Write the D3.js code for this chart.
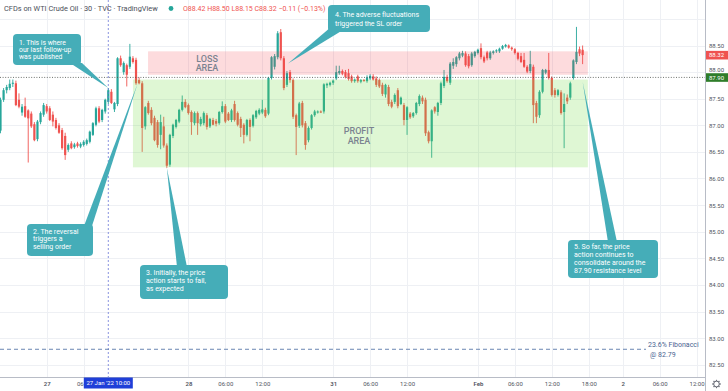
<!DOCTYPE html>
<html><head><meta charset="utf-8">
<script src="https://cdn.jsdelivr.net/npm/d3@7"></script>
<style>
html,body{margin:0;padding:0;background:#fff;overflow:hidden;}
svg{display:block;font-family:Roboto,"Open Sans",sans-serif;}
</style></head><body>
<svg id="chart" width="728" height="391"></svg>
<script>
// ---------- DATA (30-min bars, WTI CFD) ----------
const opens = [86.90,87.48,87.66,87.70,87.78,87.79,87.48,87.24,87.36,87.28,
87.22,87.02,86.74,87.06,87.20,87.36,87.32,87.20,87.10,87.00,
86.91,86.80,86.54,86.66,86.59,86.66,86.60,86.63,86.65,86.69,
86.82,87.01,87.32,87.10,87.26,87.44,87.63,87.30,87.40,88.26,
88.00,88.13,88.10,88.26,88.23,87.85,87.79,86.98,87.42,87.29,
87.14,87.06,86.82,86.98,86.62,86.26,86.80,86.97,87.07,87.29,
87.44,87.38,87.25,87.04,87.23,87.02,87.04,87.19,86.98,87.10,
87.08,87.04,87.25,87.36,87.22,87.10,87.40,87.23,87.12,87.01,
86.82,87.10,86.99,87.15,87.22,87.24,87.29,87.22,87.89,88.10,
88.28,88.75,88.26,87.76,88.00,87.85,87.19,86.99,87.42,87.04,
86.72,86.95,87.19,87.24,87.26,87.26,87.75,87.76,87.80,87.88,
87.98,88.02,88.00,87.98,87.92,87.83,87.92,87.82,87.85,87.83,
87.88,87.92,87.88,87.85,87.76,87.58,87.72,87.44,87.44,87.66,
87.40,87.38,87.10,87.22,87.17,87.23,87.40,87.52,87.48,86.87,
86.70,87.34,87.25,87.42,87.74,87.91,87.80,88.12,88.15,88.26,
88.31,88.35,88.30,88.13,88.30,88.36,88.45,88.28,88.37,88.26,
88.36,88.39,88.39,88.44,88.48,88.50,88.46,88.43,88.36,88.30,
88.23,88.10,88.02,88.10,87.42,87.19,87.63,87.99,88.04,87.89,
87.66,87.57,87.62,87.25,87.52,87.52,87.89,88.19,88.43,88.42];
const highs = [87.52,87.70,87.76,87.86,87.86,87.84,87.60,87.40,87.52,87.30,
87.26,87.06,87.10,87.26,87.42,87.40,87.36,87.26,87.14,87.04,
86.95,86.86,86.66,86.70,86.67,86.69,86.68,86.72,86.75,86.90,
87.06,87.35,87.36,87.31,87.50,87.70,87.68,87.44,88.28,88.31,
88.20,88.16,88.53,88.30,88.27,87.90,87.83,87.36,87.46,87.34,
87.18,87.10,87.20,87.16,86.66,86.84,87.03,87.12,87.31,87.56,
87.49,87.41,87.28,87.26,87.26,87.16,87.26,87.23,87.14,87.14,
87.12,87.27,87.45,87.40,87.25,87.31,87.46,87.26,87.16,87.04,
87.12,87.13,87.21,87.29,87.32,87.48,87.33,87.91,88.30,88.34,
88.77,88.81,88.30,88.02,88.04,87.88,87.22,87.44,87.46,87.08,
86.98,87.21,87.29,87.28,87.28,87.79,87.80,87.82,87.86,88.12,
88.12,88.05,88.04,88.06,87.95,87.88,87.95,87.87,87.87,87.94,
87.96,87.96,87.92,87.88,87.80,87.78,87.76,87.48,87.60,87.70,
87.54,87.42,87.36,87.25,87.25,87.44,87.58,87.56,87.52,86.90,
87.30,87.36,87.44,87.82,88.04,87.95,88.19,88.26,88.30,88.38,
88.40,88.39,88.34,88.38,88.40,88.44,88.54,88.31,88.40,88.40,
88.41,88.43,88.46,88.51,88.53,88.52,88.48,88.45,88.38,88.36,
88.36,88.13,88.40,88.14,87.46,87.66,88.06,88.06,88.36,87.92,
87.70,87.68,87.66,87.60,87.58,87.82,88.24,88.85,88.48,88.50];
const lows = [86.85,87.44,87.60,87.66,87.72,87.36,87.32,87.18,87.14,86.30,
86.95,86.70,86.70,87.02,87.16,87.22,87.08,86.98,86.92,86.84,
86.54,86.35,86.50,86.55,86.56,86.58,86.57,86.60,86.62,86.66,
86.80,86.98,87.04,87.06,87.22,87.40,87.40,87.25,87.36,88.10,
87.95,87.73,88.06,88.16,87.76,87.77,86.50,86.92,87.20,87.00,
86.70,86.58,86.55,86.58,86.20,86.22,86.76,86.94,87.04,87.26,
87.32,87.20,86.82,87.00,86.82,86.98,87.00,86.92,86.95,87.00,
86.98,87.01,87.22,87.04,87.08,87.06,87.07,86.98,86.78,86.66,
86.79,86.70,86.96,87.12,87.19,87.21,87.14,87.19,87.86,88.05,
88.24,88.22,87.66,87.72,87.80,87.12,86.44,86.95,86.96,86.54,
86.68,86.92,87.16,87.22,87.23,87.22,87.70,87.73,87.76,87.85,
87.95,87.94,87.88,87.84,87.80,87.80,87.80,87.79,87.82,87.80,
87.85,87.84,87.72,87.70,87.55,87.52,87.36,87.32,87.40,87.32,
87.38,87.00,86.82,87.12,87.14,87.20,87.36,87.40,86.80,86.66,
86.39,87.22,87.18,87.38,87.70,87.80,87.76,88.06,88.10,88.22,
88.28,88.10,88.07,88.10,88.27,88.33,88.24,88.17,88.22,88.23,
88.33,88.36,88.36,88.42,88.46,88.44,88.40,88.33,88.22,88.17,
88.08,87.98,87.98,87.04,87.04,87.14,87.60,87.96,87.86,87.54,
87.52,87.54,87.20,86.57,87.40,87.48,87.86,88.15,88.30,88.15];
const closes = [87.48,87.66,87.72,87.78,87.80,87.38,87.35,87.35,87.16,87.13,
86.98,86.72,87.07,87.23,87.38,87.26,87.10,87.07,86.95,86.86,
86.57,86.44,86.63,86.57,86.64,86.61,86.65,86.69,86.72,86.88,
87.04,87.32,87.07,87.29,87.48,87.66,87.42,87.42,88.26,88.13,
88.17,87.95,88.29,88.19,87.79,87.79,86.95,87.34,87.23,87.04,
86.72,86.63,87.06,86.62,86.24,86.82,87.01,87.10,87.29,87.44,
87.34,87.23,87.06,87.23,87.04,87.12,87.23,86.97,87.12,87.01,
87.03,87.25,87.36,87.07,87.10,87.28,87.10,87.01,86.95,86.82,
87.10,86.97,87.19,87.27,87.29,87.30,87.17,87.89,88.28,88.30,
88.73,88.26,87.70,87.98,87.85,87.16,86.97,87.41,87.00,86.63,
86.95,87.19,87.26,87.26,87.24,87.77,87.78,87.80,87.84,88.00,
88.02,87.97,87.91,87.87,87.83,87.86,87.83,87.85,87.84,87.90,
87.93,87.86,87.76,87.73,87.59,87.76,87.40,87.35,87.57,87.36,
87.52,87.10,87.34,87.15,87.23,87.42,87.55,87.45,86.85,86.70,
87.28,87.26,87.42,87.79,87.91,87.83,88.16,88.19,88.28,88.35,
88.36,88.13,88.11,88.35,88.38,88.42,88.28,88.20,88.26,88.37,
88.39,88.41,88.44,88.49,88.51,88.46,88.43,88.36,88.25,88.19,
88.10,88.01,88.15,87.38,87.16,87.63,88.04,88.04,87.89,87.57,
87.57,87.66,87.23,87.40,87.45,87.79,88.22,88.38,88.35,88.32];

const timeTickIndex  = [15, 27, 61, 73, 85, 108, 120, 132, 155, 167, 179, 191, 202, 214, 226];
const timeTickLabels = ["27","06","28","06:00","12:00","31","06:00","12:00","Feb","06:00","12:00","18:00","2","06:00","12:00"];
const dayLabels = ["27","28","31","Feb","2"];
const priceTicks = [82.5,83,83.5,84,84.5,85,85.5,86,86.5,87,87.5,88,88.5];
const lastClose = 88.32, levelPrice = 87.90, fibPrice = 82.79;
const markerIndex = 35, markerLabel = "27 Jan '22  10:00";
const lossZone = {i0: 47.9, i1: 190.7, top: 88.39, bottom: 87.95};
const profitZone = {i0: 43.0, i1: 190.7, top: 87.86, bottom: 86.21};

// ---------- SCALES ----------
const W = 728, H = 391, plotR = 705, plotB = 377;
const x = d3.scaleLinear().domain([0, 229]).range([0.5, 0.5 + 3.08 * 229]);
const y = d3.scaleLinear().domain([82.5, 88.5]).range([364.7, 45.5]);

const svg = d3.select("#chart");
svg.append("rect").attr("width", W).attr("height", H).attr("fill", "#fff");

svg.append("defs").append("clipPath").attr("id","plot")
  .append("rect").attr("x",0).attr("y",0).attr("width",plotR).attr("height",plotB);

const plot = svg.append("g").attr("clip-path","url(#plot)");

// grid
plot.selectAll("line.hg").data(priceTicks.concat([89])).enter().append("line")
  .attr("x1",0).attr("x2",plotR).attr("y1",d=>Math.round(y(d))+0.5).attr("y2",d=>Math.round(y(d))+0.5)
  .attr("stroke","#eef0f4").attr("stroke-width",1);
plot.selectAll("line.vg").data(timeTickIndex).enter().append("line")
  .attr("y1",0).attr("y2",plotB).attr("x1",d=>Math.round(x(d))+0.5).attr("x2",d=>Math.round(x(d))+0.5)
  .attr("stroke","#eef0f4").attr("stroke-width",1);

// candles
const bars = opens.map((o,i)=>({i, o, h:Math.max(highs[i],o,closes[i]), l:Math.min(lows[i],o,closes[i]), c:closes[i]}));
const up = "#26a69a", dn = "#ef5350";
const cg = plot.append("g");
cg.selectAll("line.wick").data(bars).enter().append("line")
  .attr("x1",d=>x(d.i)).attr("x2",d=>x(d.i))
  .attr("y1",d=>y(d.h)).attr("y2",d=>y(d.l))
  .attr("stroke",d=>d.c>=d.o?up:dn).attr("stroke-width",0.9);
cg.selectAll("rect.body").data(bars).enter().append("rect")
  .attr("x",d=>x(d.i)-1.1).attr("width",2.2)
  .attr("y",d=>y(Math.max(d.o,d.c)))
  .attr("height",d=>Math.max(1, Math.abs(y(d.o)-y(d.c))))
  .attr("fill",d=>d.c>=d.o?up:dn);

// zones
plot.append("rect").attr("x",x(lossZone.i0)).attr("width",x(lossZone.i1)-x(lossZone.i0))
  .attr("y",y(lossZone.top)).attr("height",y(lossZone.bottom)-y(lossZone.top))
  .attr("fill","rgba(242,54,69,0.18)");
plot.append("rect").attr("x",x(profitZone.i0)).attr("width",x(profitZone.i1)-x(profitZone.i0))
  .attr("y",y(profitZone.top)).attr("height",y(profitZone.bottom)-y(profitZone.top))
  .attr("fill","rgba(110,220,60,0.22)");

const zoneText = (lines, cx, ys) => lines.forEach((t,k)=>plot.append("text").attr("x",cx).attr("y",ys[k])
  .attr("text-anchor","middle").attr("font-size",9).attr("font-weight",500).attr("fill","#7b8390").text(t));
zoneText(["LOSS","AREA"], 207, [61.5, 71]);
zoneText(["PROFIT","AREA"], 359, [133.5, 143.5]);

// level line 87.90
plot.append("line").attr("x1",0).attr("x2",plotR).attr("y1",y(levelPrice)).attr("y2",y(levelPrice))
  .attr("stroke","#4a4f4a").attr("stroke-width",0.8).attr("stroke-dasharray","1,1.6");

// vertical marker line
plot.append("line").attr("x1",x(markerIndex)).attr("x2",x(markerIndex)).attr("y1",0).attr("y2",plotB)
  .attr("stroke","#6b78d8").attr("stroke-width",0.8).attr("stroke-dasharray","2,2");

// fibonacci
plot.append("line").attr("x1",0).attr("x2",646).attr("y1",y(fibPrice)).attr("y2",y(fibPrice))
  .attr("stroke","#5a78aa").attr("stroke-width",0.9).attr("stroke-dasharray","4,3");
plot.append("text").attr("x",648).attr("y",346.5).attr("font-size",7).attr("fill","#4a6491").text("23.6% Fibonacci");
plot.append("text").attr("x",650).attr("y",357).attr("font-size",7).attr("fill","#4a6491").text("@ " + fibPrice.toFixed(2));

// callouts
const callColor = "#45adb8";
function callout(bx, by, bw, bh, tail, lines, tx, ty0, lh, fs){
  plot.append("polygon").attr("points", tail.map(p=>p.join(",")).join(" ")).attr("fill",callColor);
  plot.append("rect").attr("x",bx).attr("y",by).attr("width",bw).attr("height",bh).attr("rx",4).attr("fill",callColor);
  lines.forEach((t,k)=>plot.append("text").attr("x",tx).attr("y",ty0+k*lh).attr("font-size",fs||7)
    .attr("fill","#fff").text(t));
}
callout(13,34,68,31, [[70,63],[82,63],[x(35),y(87.70)]],
  ["1. This is where","our last follow-up","was published"], 19, 44.5, 7.3, 6.8);
callout(27,224,66,32, [[84,226],[92,226],[137.7,83.3]],
  ["2. The reversal","triggers a","selling order"], 33, 233.5, 7.8);
callout(140,265,88,34, [[177,267],[187,267],[x(54),y(86.20)]],
  ["3. Initially, the price","action starts to fail,","as expected"], 146, 274.5, 8);
callout(328,5,102,27, [[331,27],[343,30],[288,63.5]],
  ["4. The adverse fluctuations","triggered the SL order"], 335, 16.5, 9);
callout(568,240,90,38, [[608,242],[617,242],[x(189),81.7]],
  ["5. So far, the price","action continues to","consolidate around the","87.90 resistance level"], 574, 249, 8);

// axes lines
svg.append("line").attr("x1",plotR+0.5).attr("x2",plotR+0.5).attr("y1",0).attr("y2",H).attr("stroke","#b8bcc6");
svg.append("line").attr("x1",0).attr("x2",plotR).attr("y1",plotB+0.5).attr("y2",plotB+0.5).attr("stroke","#b8bcc6");

// right price axis
const ya = svg.append("g").attr("transform",`translate(${plotR},0)`)
  .call(d3.axisRight(y).tickValues(priceTicks).tickFormat(d3.format(".2f")).tickSize(0).tickPadding(4));
ya.select(".domain").remove();
ya.selectAll("text").attr("font-size",6).attr("fill","#50535e").attr("font-family","Roboto,sans-serif");
// 88.00 sits just above the 87.90 level label (partly tucked under it in the original)
ya.selectAll(".tick").filter(d=>d===88).select("text").attr("dy","-0.05em");

// price labels
function priceLabel(p, bg){
  const g = svg.append("g");
  g.append("rect").attr("x",plotR+1).attr("y",y(p)-4.2).attr("width",22).attr("height",8.6).attr("fill",bg);
  g.append("text").attr("x",plotR+4).attr("y",y(p)+2.2).attr("font-size",6).attr("fill","#fff").text(p.toFixed(2));
}
priceLabel(lastClose, "#ef5350");
priceLabel(levelPrice, "#2f7d2a");

// time axis
const xa = svg.append("g").attr("transform",`translate(0,${plotB})`)
  .call(d3.axisBottom(x).tickValues(timeTickIndex).tickFormat((d,k)=>timeTickLabels[k]).tickSize(0).tickPadding(5));
xa.select(".domain").remove();
xa.selectAll("text").attr("font-size",6).attr("fill","#50535e").attr("font-family","Roboto,sans-serif")
  .attr("font-weight",(d,k)=>dayLabels.includes(timeTickLabels[k])?600:400);
xa.selectAll("text").filter((d,k)=>timeTickLabels[k]==="06").attr("text-anchor","end").attr("dx",-0.5);

// marker label
const mx = x(markerIndex);
svg.append("rect").attr("x",mx-24.5).attr("y",plotB+0.5).attr("width",49).attr("height",11).attr("fill","#1f3fd8");
svg.append("text").attr("x",mx).attr("y",plotB+8).attr("text-anchor","middle").attr("font-size",6)
  .attr("fill","#fff").text(markerLabel);

// gear icon
const gear = svg.append("g").attr("transform","translate(716.5,384)");
for(let a=0;a<8;a++){
  const r=a*Math.PI/4;
  gear.append("line").attr("x1",Math.cos(r)*2.6).attr("y1",Math.sin(r)*2.6)
    .attr("x2",Math.cos(r)*4.2).attr("y2",Math.sin(r)*4.2).attr("stroke","#6a6d78").attr("stroke-width",1.3);
}
gear.append("circle").attr("r",2.8).attr("fill","#fff").attr("stroke","#6a6d78").attr("stroke-width",1);

// header
svg.append("text").attr("x",4).attr("y",11).attr("font-size",7.4).attr("fill","#4b4e58")
  .text("CFDs on WTI Crude Oil · 30 · TVC · TradingView");
svg.append("circle").attr("cx",171).attr("cy",8.5).attr("r",2.4).attr("fill","#26a69a");
svg.append("text").attr("x",183).attr("y",11).attr("font-size",7).attr("fill","#ef5350")
  .text(`O${opens[opens.length-1].toFixed(2)} H${highs[highs.length-1].toFixed(2)} L${lows[lows.length-1].toFixed(2)} C${closes[closes.length-1].toFixed(2)} −0.11 (−0.13%)`);
</script>
</body></html>
